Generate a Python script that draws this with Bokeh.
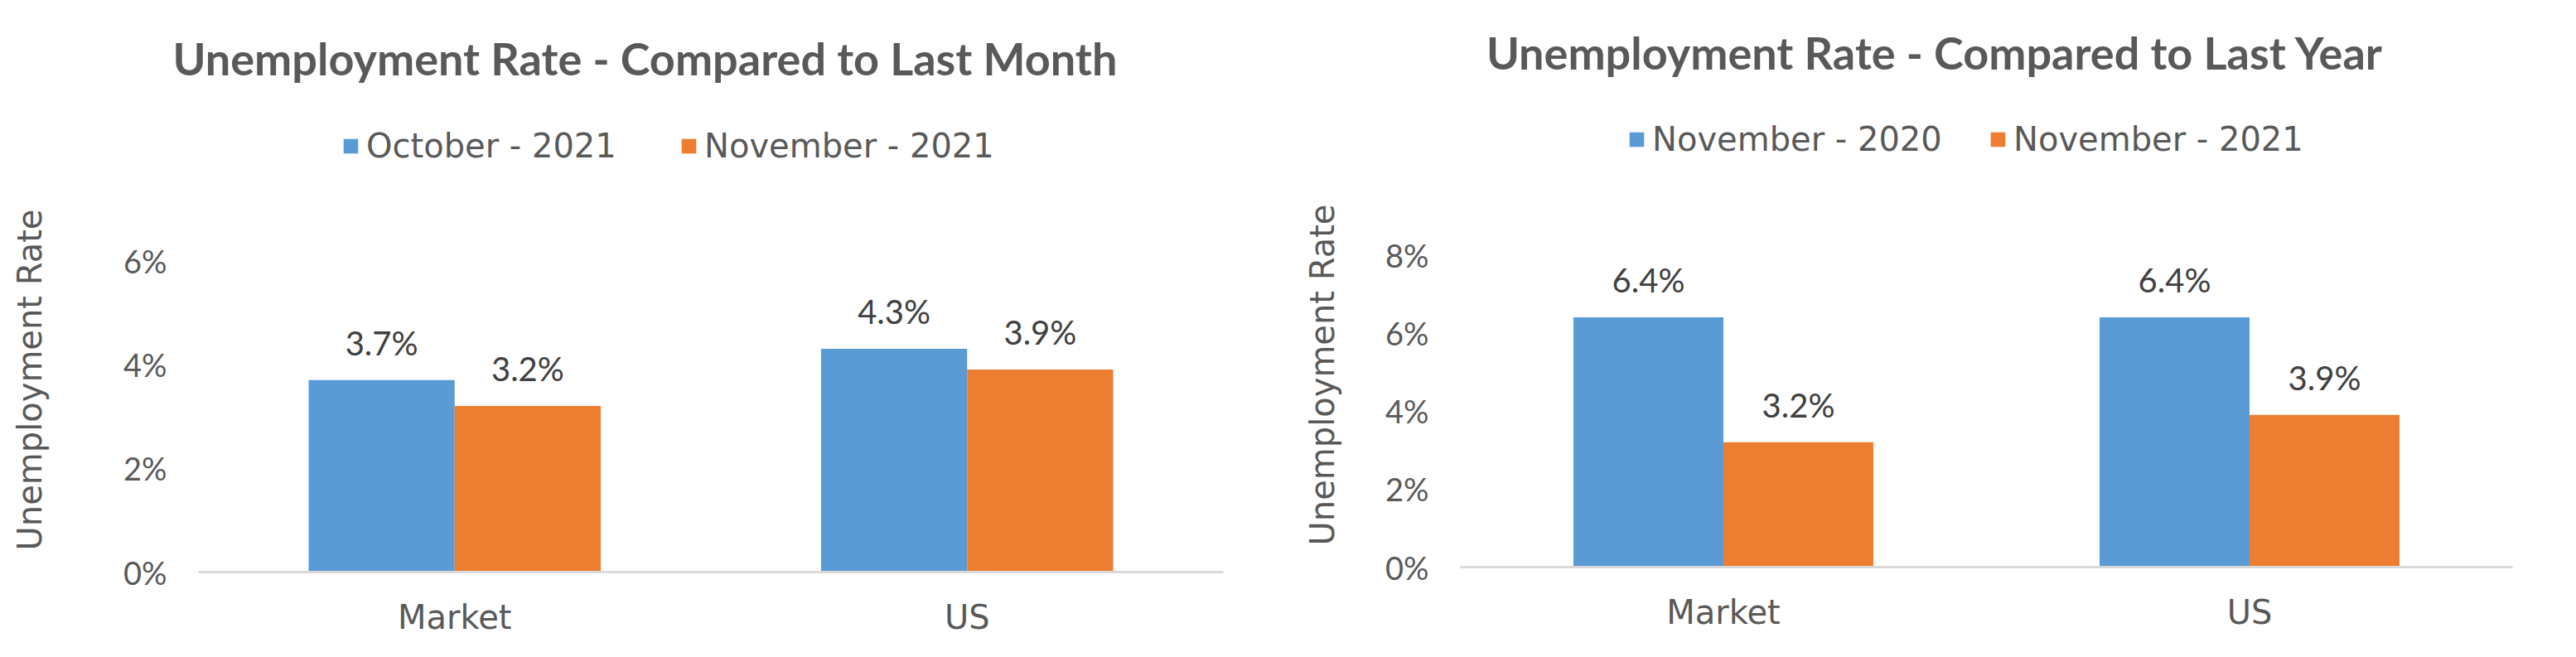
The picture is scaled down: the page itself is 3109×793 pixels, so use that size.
import math
from bokeh.plotting import figure
from bokeh.models import (ColumnDataSource, Range1d, FixedTicker, PrintfTickFormatter,
                          Label, Legend, LegendItem)
from bokeh.transform import dodge
from bokeh.layouts import row, column
from bokeh.core.properties import value
from bokeh.embed import file_html
from bokeh.resources import INLINE

# ---------------- data ----------------
categories = ["Market", "US"]

month_title = "Unemployment Rate - Compared to Last Month"
month_series = ["October - 2021", "November - 2021"]
month_prev = [3.7, 4.3]
month_curr = [3.2, 3.9]
month_ticks = [0, 2, 4, 6]

year_title = "Unemployment Rate - Compared to Last Year"
year_series = ["November - 2020", "November - 2021"]
year_prev = [6.4, 6.4]
year_curr = [3.2, 3.9]
year_ticks = [0, 2, 4, 6, 8]

y_axis_title = "Unemployment Rate"

# ---------------- style ----------------
BLUE = "#5B9BD5"
ORANGE = "#ED7D31"
GREY = "#595959"
DARK = "#404040"
AXIS = "#D9D9D9"
WORD_FONT = "DejaVu Sans"
NUM_FONT = "Lato"
TITLE_FONT = "Lato"
WORD_SIZE = "40px"
TICK_SIZE = "38px"
NUM_SIZE = "40px"
TITLE_SIZE = "54px"
BAR_W = 0.285

W_TOTAL = 3105
HH = 115          # header strip (titles)
HM = 670          # chart strip


def no_align(f):
    if "frame_align" in f.properties():
        f.frame_align = False
    return f


def blank_fig(width, height):
    f = figure(width=width, height=height, x_range=Range1d(0, width), y_range=Range1d(0, height),
               x_axis_type=None, y_axis_type=None,
               output_backend="svg", toolbar_location=None,
               min_border_left=0, min_border_right=0, min_border_top=0, min_border_bottom=0)
    f.outline_line_color = None
    f.grid.visible = False
    return no_align(f)


# ---------------- header: titles ----------------
hdr = blank_fig(W_TOTAL, HH)
for text, cx, cy in ((month_title, 778, 70), (year_title, 2335, 62.5)):
    hdr.add_layout(Label(x=cx, y=HH - cy, text=text,
                         text_align="center", text_baseline="middle",
                         text_font=TITLE_FONT, text_font_style="bold",
                         text_font_size=TITLE_SIZE, text_color=GREY))


# ---------------- y axis titles ----------------
def y_title_fig(width, tx, ty_from_top):
    f = blank_fig(width, HM)
    f.add_layout(Label(x=tx, y=HM - ty_from_top, x_units="screen", y_units="screen",
                       text=y_axis_title, angle=math.pi / 2,
                       text_align="center", text_baseline="middle", text_font=WORD_FONT,
                       text_font_size=WORD_SIZE, text_color=GREY))
    return f


# ---------------- charts ----------------
def make_chart(series, prev, curr, ticks, geo):
    src = ColumnDataSource(dict(
        cat=categories, prev=prev, curr=curr,
        prev_lbl=[f"{v:.1f}%" for v in prev],
        curr_lbl=[f"{v:.1f}%" for v in curr],
    ))
    fb = geo["frame_bottom"]
    y_end = max(ticks) * fb / (fb - geo["axis_top"])   # frame reaches up to the header
    p = figure(width=geo["width"], height=HM, x_range=categories,
               y_range=Range1d(0, y_end),
               output_backend="svg", toolbar_location=None,
               min_border_left=geo["left"], min_border_right=geo["right"],
               min_border_top=0, min_border_bottom=HM - fb)
    no_align(p)
    p.x_range.range_padding = 0
    p.outline_line_color = None
    p.grid.grid_line_color = None

    r1 = p.vbar(x=dodge("cat", -BAR_W / 2, range=p.x_range), top="prev", width=BAR_W,
                source=src, fill_color=BLUE, line_color=None)
    r2 = p.vbar(x=dodge("cat", BAR_W / 2, range=p.x_range), top="curr", width=BAR_W,
                source=src, fill_color=ORANGE, line_color=None)

    for col, off in (("prev", -BAR_W / 2), ("curr", BAR_W / 2)):
        p.text(x=dodge("cat", off, range=p.x_range), y=col, text=col + "_lbl", source=src,
               y_offset=-45, text_align="center", text_baseline="middle",
               text_font=value(NUM_FONT), text_font_size=NUM_SIZE, text_color=DARK)

    xa = p.xaxis[0]
    xa.axis_line_color = AXIS
    xa.axis_line_width = 3
    xa.major_tick_line_color = None
    xa.minor_tick_line_color = None
    xa.major_tick_out = 0
    xa.major_label_standoff = 31
    xa.major_label_text_font = WORD_FONT
    xa.major_label_text_font_size = WORD_SIZE
    xa.major_label_text_color = GREY

    ya = p.yaxis[0]
    ya.ticker = FixedTicker(ticks=ticks)
    ya.formatter = PrintfTickFormatter(format="%d%%")
    ya.axis_line_color = None
    ya.major_tick_line_color = None
    ya.minor_tick_line_color = None
    ya.major_tick_out = 0
    ya.major_tick_in = 0
    ya.major_label_standoff = 38
    ya.major_label_text_font = NUM_FONT
    ya.major_label_text_font_size = TICK_SIZE
    ya.major_label_text_color = GREY

    for rend, name, lx in ((r1, series[0], geo["leg1_x"]), (r2, series[1], geo["leg2_x"])):
        lg = Legend(items=[LegendItem(label=name, renderers=[rend])],
                    location=(lx, fb - geo["leg_bottom"]), orientation="horizontal",
                    glyph_width=22, glyph_height=22, label_standoff=8,
                    padding=0, margin=0, spacing=0,
                    border_line_color=None, background_fill_alpha=0,
                    label_text_font=WORD_FONT, label_text_font_size=WORD_SIZE,
                    label_text_color=GREY, label_text_baseline="middle")
        p.add_layout(lg)
    return p


# pixel values inside the chart strip (page y minus HH)
left_geo = dict(width=1435, left=120, right=78, frame_bottom=575, axis_top=199,
                leg1_x=173, leg2_x=581, leg_bottom=83.5)
right_geo = dict(width=1447, left=104, right=73, frame_bottom=569, axis_top=192,
                 leg1_x=202, leg2_x=638, leg_bottom=76)

yt1 = y_title_fig(119, 35, 458 - HH)
p1 = make_chart(month_series, month_prev, month_curr, month_ticks, left_geo)
yt2 = y_title_fig(104, 41, 452 - HH)
p2 = make_chart(year_series, year_prev, year_curr, year_ticks, right_geo)

layout = column(hdr, row(yt1, p1, yt2, p2))
open("out.html", "w").write(file_html(layout, INLINE))
